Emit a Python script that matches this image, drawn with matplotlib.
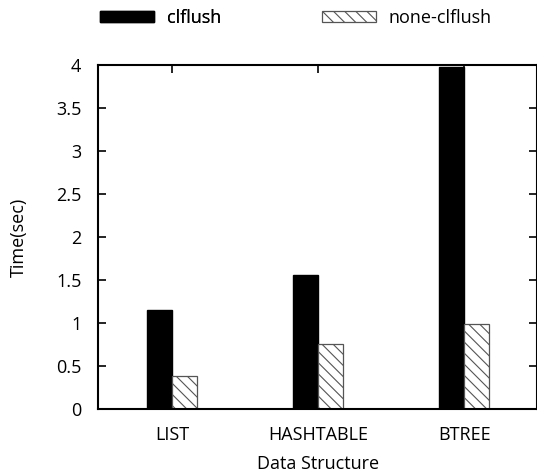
import matplotlib
matplotlib.use("Agg")
import matplotlib.pyplot as plt
import numpy as np

categories = ["LIST", "HASHTABLE", "BTREE"]
clflush = [1.15, 1.56, 3.98]
none_clflush = [0.39, 0.755, 0.99]

plt.rcParams['font.family'] = ['Open Sans', 'DejaVu Sans']
plt.rcParams['hatch.color'] = '#555555'
plt.rcParams['hatch.linewidth'] = 0.8

FS = 13
fig = plt.figure(figsize=(5.37, 4.74), dpi=100)
ax = fig.add_axes([0.1825, 0.137, 0.818, 0.726])

x = np.arange(len(categories))
w = 0.17
b1 = ax.bar(x - w/2, clflush, w, color='black', edgecolor='black', label='clflush')
b2 = ax.bar(x + w/2, none_clflush, w, color='white', edgecolor='#555555',
            hatch='\\\\\\', linewidth=0.9, label='none-clflush')

ax.set_xlim(-0.505, 2.5)
ax.set_ylim(0, 4)
ax.set_yticks(np.arange(0, 4.01, 0.5))
ax.set_yticklabels(['0', '0.5', '1', '1.5', '2', '2.5', '3', '3.5', '4'])
ax.set_xticks(x)
ax.set_xticklabels(categories)
ax.tick_params(axis='y', direction='in', right=True, length=6, width=1.2, labelsize=FS, pad=12)
ax.tick_params(axis='x', direction='in', bottom=False, top=True, length=6, width=1.2, labelsize=FS, pad=12)
for s in ax.spines.values():
    s.set_linewidth(1.5)
ax.set_xlabel('Data Structure', fontsize=FS, labelpad=8)
ax.set_ylabel('Time(sec)', fontsize=FS, labelpad=20)

leg_kw = dict(loc='center left', frameon=False, fontsize=FS, handlelength=3.0,
              handleheight=0.6, handletextpad=0.7, borderaxespad=0, borderpad=0)
l1 = fig.legend(handles=[b1], labels=['clflush'], bbox_to_anchor=(0.186, 0.962), **leg_kw)
fig.add_artist(l1)
l2 = fig.legend(handles=[b2], labels=['none-clflush'], bbox_to_anchor=(0.599, 0.962), **leg_kw)

fig.savefig('out.png', dpi=100)
